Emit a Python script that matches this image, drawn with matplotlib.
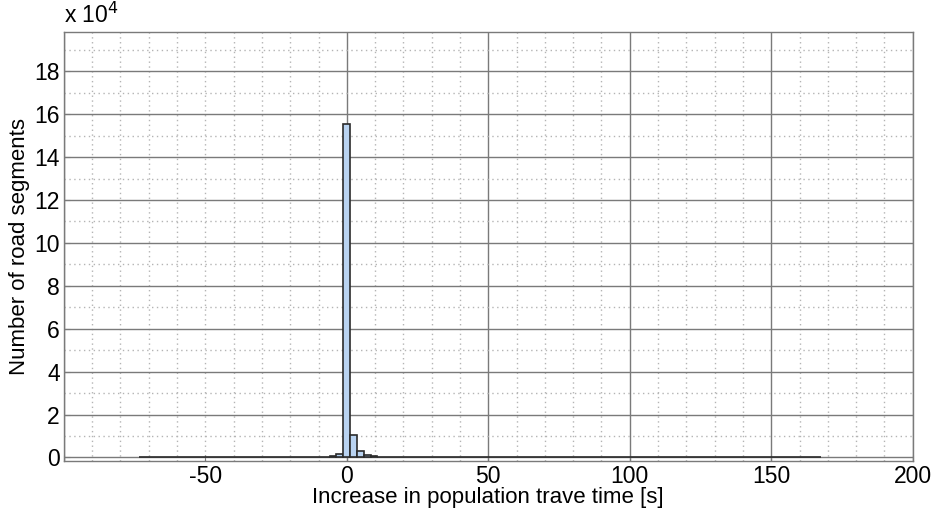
import matplotlib.pyplot as plt
from matplotlib.ticker import MultipleLocator, FuncFormatter

plt.rcParams['font.family'] = ['Liberation Sans', 'DejaVu Sans']

# histogram: 100 bins between the min and max of the data
x_min = -73.6
x_max = 167.6
n_bins = 100

# counts per bin
counts = [0] * 12 + [250, 0, 0, 250, 0, 300, 300, 0, 0, 250, 0,
                     300, 300, 350, 350, 400, 500, 1700,
                     155500, 10400, 2900, 1300, 700,
                     300, 300, 250, 250, 200,
                     150, 150, 150, 150, 150, 150, 150, 150, 150, 0,
                     250, 250, 250, 0, 250, 250, 250, 0, 250]
counts = counts + [0] * (n_bins - len(counts))

width = (x_max - x_min) / n_bins
edges = [x_min + i * width for i in range(n_bins)]

fig = plt.figure(figsize=(9.39, 5.19), dpi=100)
ax = fig.add_axes([0.068, 0.112, 0.904, 0.826])

ax.bar(edges, counts, width=width, align='edge', color='#b9d3f1',
       edgecolor='#2b2b2b', linewidth=1.2, zorder=3)

ax.set_xlim(-100, 200)
ax.set_ylim(-0.16e4, 19.82e4)

ax.xaxis.set_major_locator(MultipleLocator(50))
ax.xaxis.set_minor_locator(MultipleLocator(10))
ax.yaxis.set_major_locator(MultipleLocator(2e4))
ax.yaxis.set_minor_locator(MultipleLocator(1e4))
ax.xaxis.set_major_formatter(FuncFormatter(lambda v, p: '' if v <= -100 else '%g' % v))
ax.yaxis.set_major_formatter(FuncFormatter(lambda v, p: '%g' % (v / 1e4)))

ax.grid(which='major', color='#7a7a7a', linestyle='-', linewidth=1.0, zorder=0)
ax.grid(which='minor', color='#b4b4b4', linestyle=(0, (1, 2.5)), linewidth=1.0, zorder=0)
ax.set_axisbelow(True)

# the -50 line is drawn dotted in the original
for loc, gl in zip(ax.get_xticks(), ax.get_xgridlines()):
    if loc == -50:
        gl.set_linestyle((0, (1, 2.5)))
        gl.set_color('#b4b4b4')

ax.tick_params(which='both', direction='in', color='#7a7a7a', labelsize=16.5)
ax.tick_params(which='major', length=4, pad=3)
ax.tick_params(which='minor', length=0)
for s in ax.spines.values():
    s.set_color('#7a7a7a')
    s.set_linewidth(1.0)

ax.set_xlabel('Increase in population trave time [s]', fontsize=16, labelpad=-1)
ax.set_ylabel('Number of road segments', fontsize=16, labelpad=3)

ax.text(0.0, 1.01, 'x 10$^{4}$', transform=ax.transAxes, fontsize=16.5,
        ha='left', va='bottom')

fig.savefig('out.png', dpi=100)
